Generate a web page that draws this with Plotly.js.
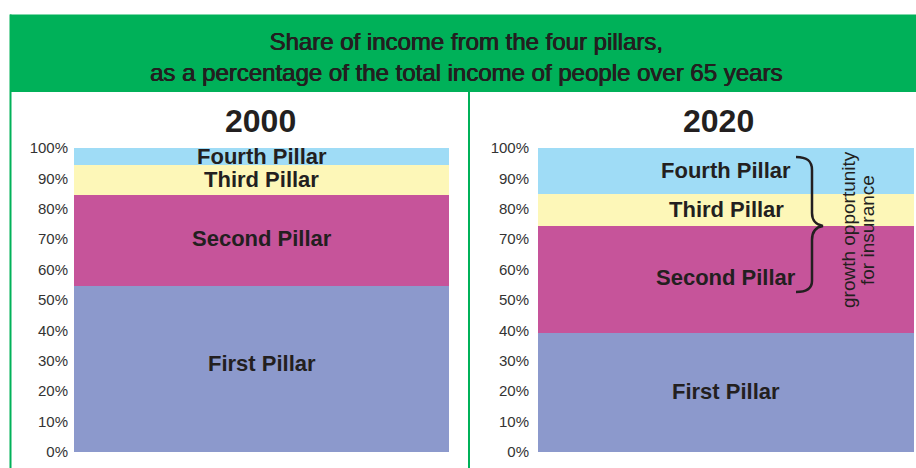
<!DOCTYPE html>
<html>
<head>
<meta charset="utf-8">
<script src="https://cdn.plot.ly/plotly-3.0.1.min.js"></script>
<style>html,body{margin:0;padding:0;background:#fff;}#chart{width:916px;height:468px;}</style>
</head>
<body>
<div id="chart"></div>
<script>
// ---- data ----
const years = ['2000', '2020'];
const pillars = ['First Pillar', 'Second Pillar', 'Third Pillar', 'Fourth Pillar'];
const share2000 = [54.5, 30, 10, 5.5];
const share2020 = [39, 35.5, 10.5, 15];
const pillarColors = ['#8c99cc', '#c6549a', '#fdf7b8', '#9fdcf6'];
const yTicks = [0, 10, 20, 30, 40, 50, 60, 70, 80, 90, 100];
const yTickText = ['0%', '10%', '20%', '30%', '40%', '50%', '60%', '70%', '80%', '90%', '100%'];
const headerText = 'Share of income from the four pillars,<br>as a percentage of the total income of people over 65 years';
const braceNote = ['growth opportunity', 'for insurance'];

const W = 916, H = 468;
const X = px => px / W;
const Y = py => 1 - py / H;
const green = '#00b159';
const ink = '#231f20';
const font = 'Liberation Sans, Arial, sans-serif';
// small label nudges (pixels, upward) per panel
const labelShift = [[6, 2, 0, 0], [1, 2, 0, 0]];

const series = [share2000, share2020];
const traces = [];
const annotations = [];
series.forEach((vals, j) => {
  const xr = j ? 'x2' : 'x', yr = j ? 'y2' : 'y';
  let cum = 0;
  vals.forEach((v, i) => {
    traces.push({
      type: 'bar', x: [0], y: [v], xaxis: xr, yaxis: yr, width: 1,
      name: pillars[i] + ' ' + years[j],
      marker: {color: pillarColors[i], line: {width: 0}},
      hoverinfo: 'skip', showlegend: false
    });
    annotations.push({
      x: 0, xref: xr, y: cum + v / 2, yref: yr, text: '<b>' + pillars[i] + '</b>',
      showarrow: false, xanchor: 'center', yanchor: 'middle', yshift: labelShift[j][i],
      font: {family: font, size: 22, color: ink}
    });
    cum += v;
  });
});

// panel titles
[[260, years[0]], [718, years[1]]].forEach(([cx, t]) => {
  annotations.push({x: X(cx), y: Y(121), xref: 'paper', yref: 'paper', text: '<b>' + t + '</b>',
    showarrow: false, xanchor: 'center', yanchor: 'middle',
    font: {family: font, size: 32, color: ink}});
});
// header
annotations.push({x: X(466), y: Y(57), xref: 'paper', yref: 'paper', text: headerText,
  showarrow: false, xanchor: 'center', yanchor: 'middle',
  font: {family: font, size: 24, color: ink, shadow: '0.5px 0 0 #231f20, -0.3px 0 0 #231f20'}});
// brace note
annotations.push({x: X(848), y: Y(230), xref: 'paper', yref: 'paper', text: braceNote[0],
  showarrow: false, textangle: -90, xanchor: 'center', yanchor: 'middle',
  font: {family: font, size: 19, color: ink}});
annotations.push({x: X(867), y: Y(230), xref: 'paper', yref: 'paper', text: braceNote[1],
  showarrow: false, textangle: -90, xanchor: 'center', yanchor: 'middle',
  font: {family: font, size: 19, color: ink}});

const bracePts = `M ${X(796)} ${Y(157)} C ${X(806)} ${Y(157)}, ${X(812)} ${Y(160)}, ${X(812)} ${Y(170)} L ${X(812)} ${Y(213)} C ${X(812)} ${Y(220)}, ${X(816)} ${Y(225)}, ${X(823)} ${Y(226)} C ${X(816)} ${Y(227)}, ${X(812)} ${Y(232)}, ${X(812)} ${Y(240)} L ${X(812)} ${Y(281)} C ${X(812)} ${Y(289)}, ${X(806)} ${Y(292)}, ${X(796)} ${Y(292)}`;

const shapes = [
  {type: 'rect', xref: 'paper', yref: 'paper', x0: X(10), x1: 1, y0: Y(92), y1: Y(14.5), fillcolor: green, line: {width: 0}, layer: 'below'},
  {type: 'line', xref: 'paper', yref: 'paper', x0: X(10.5), x1: X(10.5), y0: 0, y1: Y(14.5), line: {color: green, width: 2}},
  {type: 'line', xref: 'paper', yref: 'paper', x0: X(469), x1: X(469), y0: 0, y1: Y(92), line: {color: green, width: 2}},
  {type: 'path', xref: 'paper', yref: 'paper', path: bracePts, line: {color: ink, width: 2.5}}
];

const yaxisBase = {
  range: [0, 100], tickmode: 'array', tickvals: yTicks, ticktext: yTickText,
  showgrid: false, zeroline: false, showline: false, ticks: '',
  tickfont: {family: font, size: 15, color: '#333'},
  fixedrange: true, domain: [Y(452), Y(148)]
};
const xaxisBase = {type: 'linear', range: [-0.5, 0.5], showticklabels: false, ticks: '', showgrid: false, zeroline: false, showline: false, fixedrange: true};
const layout = {
  width: W, height: H, margin: {l: 0, r: 0, t: 0, b: 0},
  paper_bgcolor: '#fff', plot_bgcolor: '#fff', showlegend: false,
  barmode: 'stack', bargap: 0,
  xaxis: Object.assign({}, xaxisBase, {domain: [X(74), X(449)], anchor: 'y'}),
  xaxis2: Object.assign({}, xaxisBase, {domain: [X(538), X(914)], anchor: 'y2'}),
  yaxis: Object.assign({}, yaxisBase, {anchor: 'x', ticklabelstandoff: 5}),
  yaxis2: Object.assign({}, yaxisBase, {anchor: 'x2', ticklabelstandoff: 8}),
  annotations: annotations,
  shapes: shapes
};
Plotly.newPlot('chart', traces, layout, {displayModeBar: false, staticPlot: true});
</script>
</body>
</html>
